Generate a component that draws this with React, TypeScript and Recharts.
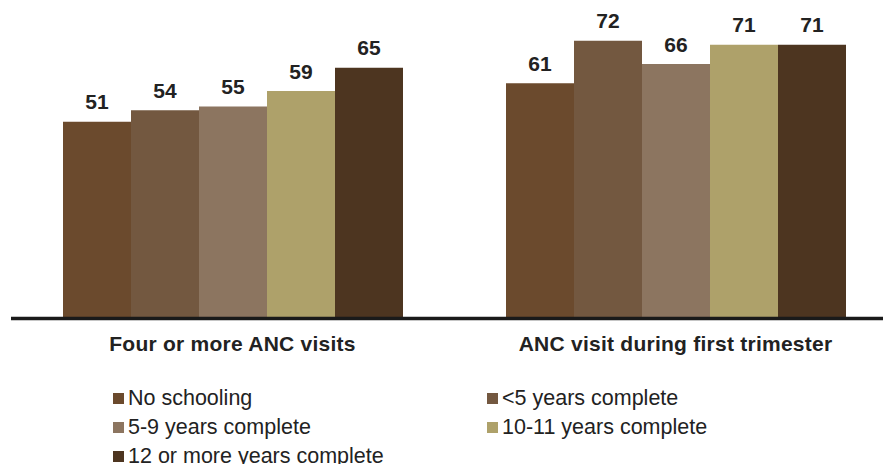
import React from "react";
import { BarChart, Bar, XAxis, YAxis, LabelList, Legend } from "recharts";

const categories = ["Four or more ANC visits", "ANC visit during first trimester"];
const noSchooling = [51, 61];
const lessThan5Years = [54, 72];
const years5to9 = [55, 66];
const years10to11 = [59, 71];
const years12Plus = [65, 71];

const seriesKeys = ["s0", "s1", "s2", "s3", "s4"];
const seriesNames = [
  "No schooling",
  "<5 years complete",
  "5-9 years complete",
  "10-11 years complete",
  "12 or more years complete",
];
const seriesColors = ["#6B4A2D", "#735840", "#8C7560", "#AEA16A", "#4D3520"];
const seriesValues = [noSchooling, lessThan5Years, years5to9, years10to11, years12Plus];

const data = categories.map((c, i) => {
  const row: Record<string, string | number> = { category: c };
  seriesKeys.forEach((k, j) => {
    row[k] = seriesValues[j][i];
  });
  return row;
});

const FONT = "'Liberation Sans', Arial, Helvetica, sans-serif";

const CategoryTick = (props: any) => {
  const { x, y, payload } = props;
  return (
    <text
      x={x}
      y={y}
      dy={24}
      textAnchor="middle"
      fontFamily={FONT}
      fontSize={21}
      fontWeight="bold"
      letterSpacing={0.25}
      fill="#222"
    >
      {payload.value}
    </text>
  );
};

const LegendContent = () => {
  const colLeft = [113, 487];
  return (
    <div style={{ position: "relative", width: 883, height: 82, fontFamily: FONT }}>
      {seriesNames.map((name, i) => {
        const col = i % 2;
        const row = Math.floor(i / 2);
        return (
          <div
            key={name}
            style={{
              position: "absolute",
              left: colLeft[col],
              top: 2 + row * 29,
              height: 29,
              display: "flex",
              alignItems: "center",
              whiteSpace: "nowrap",
            }}
          >
            <span
              style={{
                display: "inline-block",
                width: 11,
                height: 11,
                background: seriesColors[i],
                marginRight: 4,
              }}
            />
            <span style={{ fontSize: 21.5, color: "#222", lineHeight: "29px" }}>{name}</span>
          </div>
        );
      })}
    </div>
  );
};

export default function App() {
  return (
    <div
      style={{
        position: "absolute",
        left: 0,
        top: 0,
        width: 883,
        height: 464,
        overflow: "hidden",
        background: "#fff",
      }}
    >
      <BarChart
        width={900}
        height={464}
        data={data}
        margin={{ top: 10, right: 3, left: 11, bottom: 0 }}
        barGap={0}
      >
        <YAxis hide domain={[0, 80]} />
        <XAxis
          dataKey="category"
          height={63.4}
          axisLine={{ stroke: "#1a1a1a", strokeWidth: 3.5 }}
          tickLine={false}
          tick={<CategoryTick />}
          interval={0}
        />
        <Legend
          verticalAlign="bottom"
          content={<LegendContent />}
          wrapperStyle={{ left: 0, bottom: 0, width: 883, height: 82 }}
        />
        {seriesKeys.map((k, j) => (
          <Bar
            key={k}
            dataKey={k}
            name={seriesNames[j]}
            fill={seriesColors[j]}
            barSize={68}
            isAnimationActive={false}
          >
            <LabelList
              dataKey={k}
              position="top"
              offset={12.5}
              fontFamily={FONT}
              fontSize={21}
              fontWeight="bold"
              fill="#222"
            />
          </Bar>
        ))}
      </BarChart>
    </div>
  );
}
